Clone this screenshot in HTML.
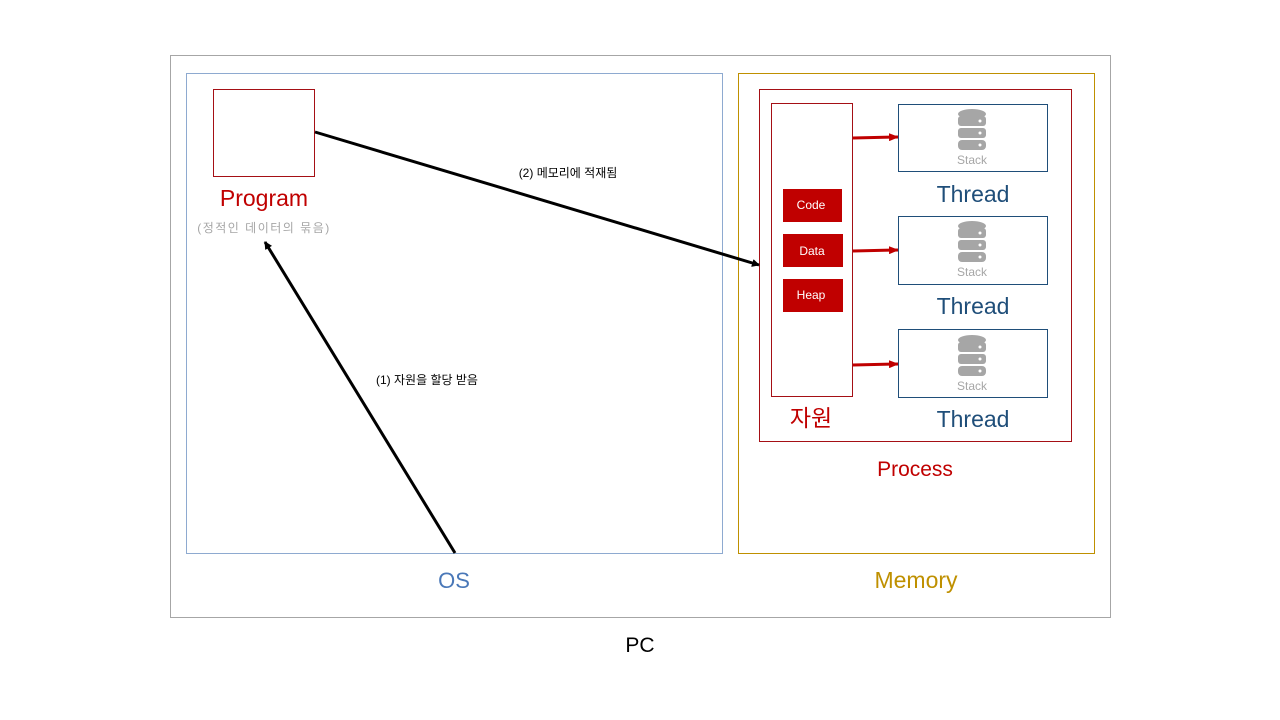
<!DOCTYPE html>
<html><head><meta charset="utf-8"><style>
html,body{margin:0;padding:0;background:#fff;}
svg{display:block;font-family:"Liberation Sans","Noto Sans CJK KR",sans-serif;}
</style></head><body>
<svg width="1280" height="720" viewBox="0 0 1280 720" xmlns="http://www.w3.org/2000/svg">
<defs>
<marker id="ab" markerWidth="8" markerHeight="8" refX="7" refY="4" orient="auto" markerUnits="userSpaceOnUse"><path d="M0,0 L8,4 L0,8 Z" fill="#000"/></marker>
<marker id="ar" markerWidth="10" markerHeight="8" refX="9" refY="4" orient="auto" markerUnits="userSpaceOnUse"><path d="M0,0 L10,4 L0,8 Z" fill="#c00000"/></marker>
<g id="db" fill="#a6a6a6">
<ellipse cx="0" cy="0" rx="14" ry="5"/>
<rect x="-14" y="2" width="28" height="10" rx="3"/>
<rect x="-14" y="14" width="28" height="10" rx="3"/>
<rect x="-14" y="26" width="28" height="10" rx="4"/>
<circle cx="8" cy="7" r="1.5" fill="#fff"/><circle cx="8" cy="19" r="1.5" fill="#fff"/><circle cx="8" cy="31" r="1.5" fill="#fff"/>
</g>
</defs>
<rect x="170.5" y="55.5" width="940" height="562" fill="none" stroke="#a6a6a6"/>
<rect x="186.5" y="73.5" width="536" height="480" fill="none" stroke="#8eaad0"/>
<rect x="738.5" y="73.5" width="356" height="480" fill="none" stroke="#bf9000"/>
<rect x="759.5" y="89.5" width="312" height="352" fill="none" stroke="#a50f15"/>
<rect x="213.5" y="89.5" width="101" height="87" fill="none" stroke="#a50f15"/>
<text x="264" y="206" font-size="23" fill="#c00000" text-anchor="middle">Program</text>
<text x="264" y="232" font-size="12" fill="#a6a6a6" text-anchor="middle" letter-spacing="1.5">(정적인 데이터의 묶음)</text>
<line x1="315" y1="132" x2="759" y2="265" stroke="#000" stroke-width="3" marker-end="url(#ab)"/>
<text x="568" y="177" font-size="12" fill="#000" text-anchor="middle">(2) 메모리에 적재됨</text>
<line x1="455" y1="553" x2="265" y2="242" stroke="#000" stroke-width="3" marker-end="url(#ab)"/>
<text x="427" y="384" font-size="12" fill="#000" text-anchor="middle">(1) 자원을 할당 받음</text>
<rect x="771.5" y="103.5" width="81" height="293" fill="none" stroke="#a50f15"/>
<rect x="783" y="189" width="59" height="33" fill="#c00000"/>
<text x="811" y="209" font-size="12" fill="#fff" text-anchor="middle">Code</text>
<rect x="783" y="234" width="60" height="33" fill="#c00000"/>
<text x="812" y="255" font-size="12" fill="#fff" text-anchor="middle">Data</text>
<rect x="783" y="279" width="60" height="33" fill="#c00000"/>
<text x="811" y="299" font-size="12" fill="#fff" text-anchor="middle">Heap</text>
<text x="811" y="426" font-size="23" fill="#c00000" text-anchor="middle">자원</text>
<g stroke="#c00000" stroke-width="3">
<line x1="853" y1="138" x2="898" y2="137" marker-end="url(#ar)"/>
<line x1="853" y1="251" x2="898" y2="250" marker-end="url(#ar)"/>
<line x1="853" y1="365" x2="898" y2="364" marker-end="url(#ar)"/>
</g>
<g fill="none" stroke="#1f4e79">
<rect x="898.5" y="104.5" width="149" height="67"/>
<rect x="898.5" y="216.5" width="149" height="68"/>
<rect x="898.5" y="329.5" width="149" height="68"/>
</g>
<use href="#db" x="972" y="114"/>
<use href="#db" x="972" y="226"/>
<use href="#db" x="972" y="340"/>
<g font-size="12" fill="#a6a6a6" text-anchor="middle">
<text x="972" y="164">Stack</text><text x="972" y="276">Stack</text><text x="972" y="390">Stack</text>
</g>
<g font-size="23" fill="#1f4e79" text-anchor="middle">
<text x="973" y="202">Thread</text><text x="973" y="314">Thread</text><text x="973" y="427">Thread</text>
</g>
<text x="915" y="476" font-size="21" fill="#c00000" text-anchor="middle">Process</text>
<text x="454" y="588" font-size="22" fill="#4a78b8" text-anchor="middle">OS</text>
<text x="916" y="588" font-size="23" fill="#bf9000" text-anchor="middle">Memory</text>
<text x="640" y="652" font-size="21" fill="#000" text-anchor="middle">PC</text>
</svg>
</body></html>
